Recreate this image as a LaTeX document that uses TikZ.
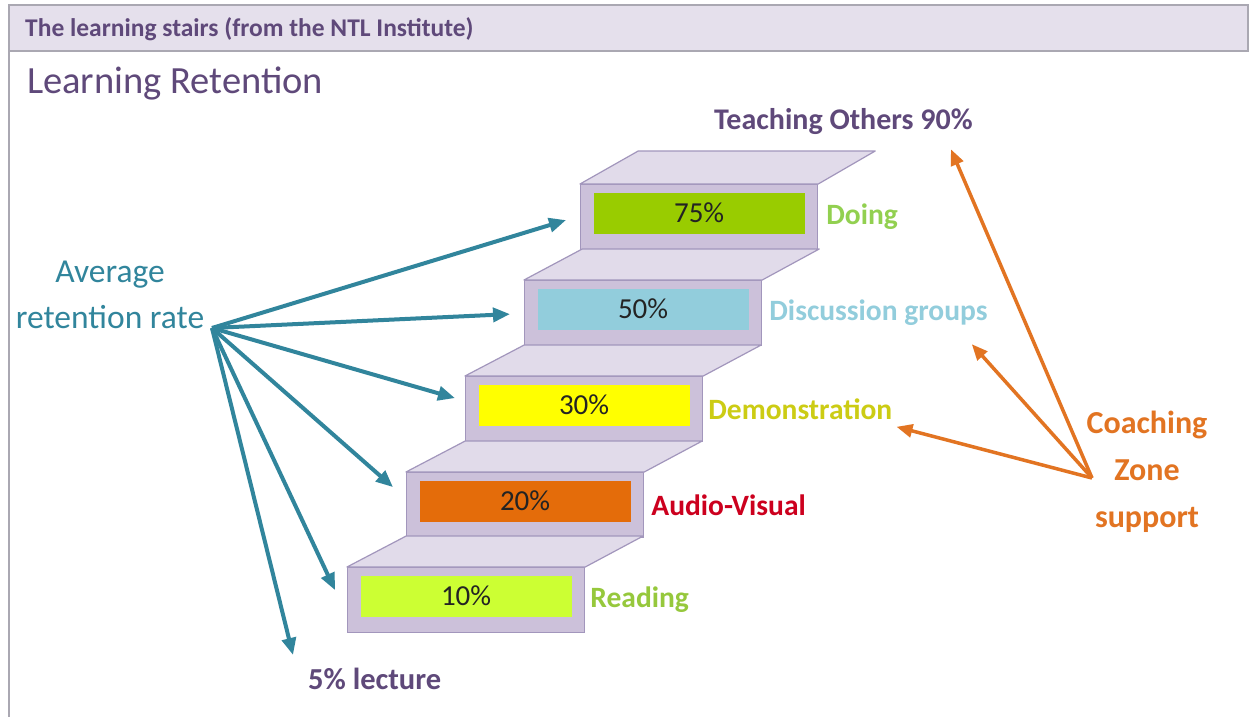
\documentclass[tikz,border=0pt]{standalone}
\usepackage{fontspec}
\setmainfont{Carlito}
\usepackage{tikz}
\usetikzlibrary{arrows.meta, positioning, calc}

\definecolor{hdrfill}{RGB}{229,224,236}
\definecolor{hdredge}{RGB}{170,168,178}
\definecolor{purp}{RGB}{95,73,122}
\definecolor{frontcol}{RGB}{204,193,218}
\definecolor{topcol}{RGB}{225,219,234}
\definecolor{stepedge}{RGB}{162,150,188}
\definecolor{tealc}{RGB}{49,133,156}
\definecolor{orangec}{RGB}{226,116,34}
\definecolor{pcttext}{RGB}{35,35,35}
\definecolor{bardoing}{RGB}{153,204,0}
\definecolor{bardisc}{RGB}{146,205,220}
\definecolor{bardemo}{RGB}{255,255,0}
\definecolor{baraudio}{RGB}{228,108,10}
\definecolor{barread}{RGB}{204,255,51}
\definecolor{labdoing}{RGB}{146,208,80}
\definecolor{labdisc}{RGB}{146,205,220}
\definecolor{labdemo}{RGB}{204,204,20}
\definecolor{labaudio}{RGB}{204,0,30}
\definecolor{labread}{RGB}{150,200,60}

\begin{document}
\begin{tikzpicture}[x=1pt, y=-1pt,
    every node/.style={inner sep=0pt},
    stepfront/.style={draw=stepedge, line width=1.2pt, fill=frontcol, minimum width=237pt, minimum height=65pt, anchor=north west},
    topface/.style={draw=stepedge, line width=1.2pt, fill=topcol, line join=round},
    pctbar/.style={minimum width=211pt, minimum height=41pt, font=\fontsize{29}{34}\selectfont, text=pcttext},
    steplabel/.style={font=\fontsize{29.5}{34}\selectfont\bfseries},
    retarrow/.style={draw=tealc, line width=4pt, -{Triangle[length=17pt,width=14pt]}},
    coacharrow/.style={draw=orangec, line width=3.5pt, -{Triangle[length=16pt,width=13pt]}}
]
\useasboundingbox (0,0) rectangle (1249,717);
\fill[white] (0,0) rectangle (1249,717);

% frame and header bar
\draw[hdredge, line width=1.5pt, fill=hdrfill] (9,5) rectangle (1248,51);
\draw[hdredge, line width=1.5pt] (9,51) -- (9,717);
\node[anchor=west, font=\fontsize{25.5}{30}\selectfont\bfseries, text=purp] (hdr) at (25,29) {The learning stairs (from the NTL Institute)};
\node[anchor=west, font=\fontsize{38.5}{44}\selectfont, text=purp] (title) at (27,83) {Learning Retention};

% stair fronts
\node[stepfront] (s1) at (347,567) {};
\node[stepfront] (s2) at (406,472) {};
\node[stepfront] (s3) at (465,376) {};
\node[stepfront] (s4) at (524,280) {};
\node[stepfront] (s5) at (580,184) {};

% stair tops
\draw[topface] (s1.north west) -- (s1.north east) -- ++(58,-31) -- ++(-237,0) -- cycle;
\draw[topface] (s2.north west) -- (s2.north east) -- ++(58,-31) -- ++(-237,0) -- cycle;
\draw[topface] (s3.north west) -- (s3.north east) -- ++(58,-31) -- ++(-237,0) -- cycle;
\draw[topface] (s4.north west) -- (s4.north east) -- ++(57,-31) -- ++(-237,0) -- cycle;
\draw[topface] (s5.north west) -- (s5.north east) -- ++(57,-33) -- ++(-237,0) -- cycle;

% coloured bars
\node[pctbar, fill=barread]  (b1) at ([yshift=4pt]s1.center) {10\%};
\node[pctbar, fill=baraudio] (b2) at ([yshift=4pt]s2.center) {20\%};
\node[pctbar, fill=bardemo]  (b3) at ([yshift=4pt]s3.center) {30\%};
\node[pctbar, fill=bardisc]  (b4) at ([yshift=4pt]s4.center) {50\%};
\node[pctbar, fill=bardoing] (b5) at ([yshift=4pt]s5.center) {75\%};

% step labels
\node[steplabel, text=labread,  right=5pt of s1] (lread)  {Reading};
\node[steplabel, text=labaudio, right=7pt of s2] (laudio) {Audio-Visual};
\node[steplabel, text=labdemo,  right=5pt of s3] (ldemo)  {Demonstration};
\node[steplabel, text=labdisc,  right=7pt of s4] (ldisc)  {Discussion groups};
\node[steplabel, text=labdoing, right=8pt of s5] (ldoing) {Doing};

\node[anchor=west, font=\fontsize{30}{34}\selectfont\bfseries, text=purp] (teach) at (714,122) {Teaching Others 90\%};
\node[anchor=west, font=\fontsize{30.5}{34}\selectfont\bfseries, text=purp] (lect) at (308,679) {5\% lecture};

% side captions
\node[align=center, font=\fontsize{33.5}{46}\selectfont, text=tealc] (avg) at (110,295) {Average\\retention rate};
\node[align=center, font=\fontsize{32}{47}\selectfont\bfseries, text=orangec] (coach) at (1147,472) {Coaching\\Zone\\support};
\coordinate (fan) at (212,328);
\coordinate (hub) at (1092,478);

% retention arrows
\draw[retarrow] (fan) -- ([shift={(-14,3)}]s5.west);
\draw[retarrow] (fan) -- ([shift={(-14,1)}]s4.west);
\draw[retarrow] (fan) -- ([shift={(-10,-11)}]s3.west);
\draw[retarrow] (fan) -- ([shift={(-13,-18)}]s2.west);
\draw[retarrow] (fan) -- ([shift={(-12,-10)}]s1.west);
\draw[retarrow] (fan) -- ([shift={(-15,-13)}]lect.north west);

% coaching arrows
\draw[coacharrow] (hub) -- ([shift={(-22,14)}]teach.south east);
\draw[coacharrow] (hub) -- ([shift={(-16,18)}]ldisc.south east);
\draw[coacharrow] (hub) -- ([shift={(4,7)}]ldemo.south east);
\end{tikzpicture}
\end{document}
